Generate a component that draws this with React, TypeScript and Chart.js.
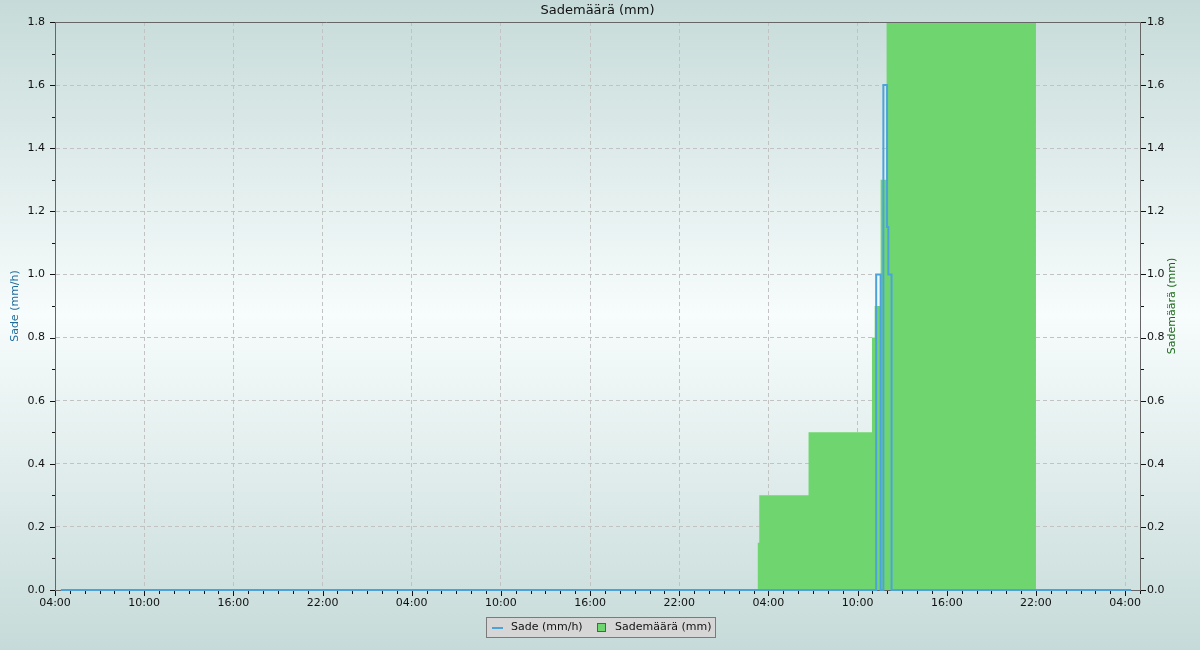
import React, { useEffect, useRef } from "react";
import { Chart, registerables } from "chart.js";

Chart.register(...registerables);

// ---- data ----
const START_HOUR = 4; // x axis begins at 04:00 of day 0
const X_MAX_HOURS = 73;
const X_MAJOR_STEP = 6;

const chartTitle = "Sademäärä (mm)";
const rateLabel = "Sade (mm/h)";
const sumLabel = "Sademäärä (mm)";

// Sade (mm/h): change points "day HH:MM", value holds until the next point
const rateTimes = ["0 04:24", "2 11:15", "2 11:33", "2 11:44", "2 11:59", "2 12:04", "2 12:17", "3 04:24"];
const rateValues = [0, 1.0, 0, 1.6, 1.15, 1.0, 0, 0];

// Sademäärä (mm): change points
const sumTimes = ["0 04:24", "2 03:17", "2 03:23", "2 06:42", "2 10:58", "2 11:09", "2 11:33", "2 11:57", "2 22:00", "3 04:24"];
const sumValues = [0, 0.15, 0.3, 0.5, 0.8, 0.9, 1.3, 1.8, 0, 0];

const Y_MIN = 0;
const Y_MAX = 1.8;
const Y_STEP = 0.2;

const RATE_COLOR = "#4ba3da";
const SUM_COLOR = "#6fd66f";

function toHours(t: string): number {
  const [d, hm] = t.split(" ");
  const [h, m] = hm.split(":").map(Number);
  return Number(d) * 24 + h + m / 60 - START_HOUR;
}

function fmtHour(v: number): string {
  const hh = (((START_HOUR + Math.round(v)) % 24) + 24) % 24;
  return (hh < 10 ? "0" : "") + hh + ":00";
}

const FONT = "'DejaVu Sans', sans-serif";

const decorPlugin = {
  id: "decor",
  beforeDraw(chart: any) {
    const { ctx, width, height } = chart;
    const g = ctx.createLinearGradient(0, 0, 0, height);
    g.addColorStop(0, "#c6dbd9");
    g.addColorStop(0.485, "#f7fcfc");
    g.addColorStop(1, "#c6dbd9");
    ctx.save();
    ctx.fillStyle = g;
    ctx.fillRect(0, 0, width, height);
    ctx.restore();
  },
  afterDraw(chart: any) {
    const { ctx, chartArea: a, scales } = chart;
    ctx.save();
    // top frame line
    ctx.strokeStyle = "#666";
    ctx.lineWidth = 1;
    ctx.beginPath();
    const ty = Math.round(a.top) + 0.5;
    ctx.moveTo(Math.round(a.left), ty);
    ctx.lineTo(Math.round(a.right) + 1, ty);
    ctx.stroke();

    // tick marks
    ctx.strokeStyle = "#111";
    const xs = scales.x;
    const bottom = Math.round(a.bottom) + 1;
    for (let h = 0; h <= X_MAX_HOURS; h++) {
      const px = Math.round(xs.getPixelForValue(h)) + 0.5;
      const len = h % X_MAJOR_STEP === 0 ? 5 : 3;
      ctx.beginPath();
      ctx.moveTo(px, bottom);
      ctx.lineTo(px, bottom + len);
      ctx.stroke();
    }
    const ys = scales.y;
    const n = Math.round((Y_MAX - Y_MIN) / 0.1);
    for (let i = 0; i <= n; i++) {
      const v = Y_MIN + i * 0.1;
      const py = Math.round(ys.getPixelForValue(v)) + 0.5;
      const len = i % 2 === 0 ? 5 : 3;
      ctx.beginPath();
      ctx.moveTo(Math.round(a.left) - len, py);
      ctx.lineTo(Math.round(a.left), py);
      ctx.moveTo(Math.round(a.right) + 1, py);
      ctx.lineTo(Math.round(a.right) + 1 + len, py);
      ctx.stroke();
    }

    // title
    ctx.fillStyle = "#111";
    ctx.font = "13px " + FONT;
    ctx.textAlign = "center";
    ctx.textBaseline = "middle";
    ctx.fillText(chartTitle, (a.left + a.right) / 2, 11);

    // axis titles
    const midY = (a.top + a.bottom) / 2;
    ctx.font = "11px " + FONT;
    ctx.save();
    ctx.translate(15, midY);
    ctx.rotate(-Math.PI / 2);
    ctx.fillStyle = "#1f6b9c";
    ctx.fillText(rateLabel, 0, 0);
    ctx.restore();
    ctx.save();
    ctx.translate(1172, midY);
    ctx.rotate(-Math.PI / 2);
    ctx.fillStyle = "#1b6a1b";
    ctx.fillText(sumLabel, 0, 0);
    ctx.restore();

    // legend
    const lx = 486.5, ly = 617.5, lw = 229, lh = 20;
    ctx.fillStyle = "#d6d6d6";
    ctx.fillRect(lx, ly, lw, lh);
    ctx.strokeStyle = "#7a7a7a";
    ctx.strokeRect(lx, ly, lw, lh);
    const cy = ly + lh / 2;
    ctx.strokeStyle = RATE_COLOR;
    ctx.lineWidth = 2;
    ctx.beginPath();
    ctx.moveTo(492, cy + 0.5);
    ctx.lineTo(503, cy + 0.5);
    ctx.stroke();
    ctx.fillStyle = "#111";
    ctx.textAlign = "left";
    ctx.font = "11px " + FONT;
    ctx.fillText(rateLabel, 511, cy);
    ctx.fillStyle = SUM_COLOR;
    ctx.fillRect(597.5, cy - 4, 8, 8);
    ctx.lineWidth = 1;
    ctx.strokeStyle = "#3d6e3d";
    ctx.strokeRect(597.5, cy - 4, 8, 8);
    ctx.fillStyle = "#111";
    ctx.fillText(sumLabel, 615, cy);
    ctx.restore();
  },
};

export default function App() {
  const ref = useRef<HTMLCanvasElement | null>(null);

  useEffect(() => {
    document.body.style.margin = "0";
    if (!ref.current) return;
    Chart.defaults.font.family = FONT;
    Chart.defaults.font.size = 11;
    Chart.defaults.color = "#111";

    const gridOpts = {
      color: "#c2c2c2",
      lineWidth: 1,
      drawTicks: false,
    };
    const borderOpts = { color: "#666", width: 1, dash: [4, 3] };

    const chart = new Chart(ref.current, {
      type: "line",
      data: {
        datasets: [
          {
            label: rateLabel,
            data: rateTimes.map((t, i) => ({ x: toHours(t), y: rateValues[i] })),
            yAxisID: "y",
            borderColor: RATE_COLOR,
            borderWidth: 2,
            stepped: true,
            pointRadius: 0,
            fill: false,
            order: 1,
            clip: 3,
          },
          {
            label: sumLabel,
            data: sumTimes.map((t, i) => ({ x: toHours(t), y: sumValues[i] })),
            yAxisID: "y2",
            borderColor: "transparent",
            backgroundColor: SUM_COLOR,
            borderWidth: 1,
            stepped: true,
            pointRadius: 0,
            fill: "origin",
            order: 2,
          },
        ],
      },
      options: {
        responsive: false,
        animation: false,
        devicePixelRatio: 1,
        layout: { padding: { top: 22, left: 0, right: 0, bottom: 0 } },
        plugins: {
          legend: { display: false },
          title: { display: false },
          tooltip: { enabled: false },
        },
        scales: {
          x: {
            type: "linear",
            min: 0,
            max: X_MAX_HOURS,
            afterBuildTicks: (s: any) => {
              const t: any[] = [];
              for (let v = 0; v <= X_MAX_HOURS; v += X_MAJOR_STEP) t.push({ value: v });
              s.ticks = t;
            },
            afterFit: (s: any) => {
              s.height = 60;
            },
            ticks: {
              stepSize: X_MAJOR_STEP,
              autoSkip: false,
              maxRotation: 0,
              padding: 7,
              callback: (v: any) => fmtHour(Number(v)),
            },
            grid: gridOpts,
            border: borderOpts,
          },
          y: {
            type: "linear",
            position: "left",
            min: Y_MIN,
            max: Y_MAX,
            afterFit: (s: any) => {
              s.width = 55;
            },
            ticks: {
              stepSize: Y_STEP,
              padding: 10,
              callback: (v: any) => Number(v).toFixed(1),
            },
            grid: gridOpts,
            border: borderOpts,
          },
          y2: {
            type: "linear",
            position: "right",
            min: Y_MIN,
            max: Y_MAX,
            afterFit: (s: any) => {
              s.width = 60;
            },
            ticks: {
              stepSize: Y_STEP,
              padding: 7,
              callback: (v: any) => Number(v).toFixed(1),
            },
            grid: { display: false, drawTicks: false },
            border: { color: "#666", width: 1 },
          },
        },
      },
      plugins: [decorPlugin],
    } as any);

    return () => chart.destroy();
  }, []);

  return (
    <div style={{ width: 1200, height: 650, position: "absolute", left: 0, top: 0 }}>
      <canvas ref={ref} width={1200} height={650} style={{ display: "block" }} />
    </div>
  );
}
